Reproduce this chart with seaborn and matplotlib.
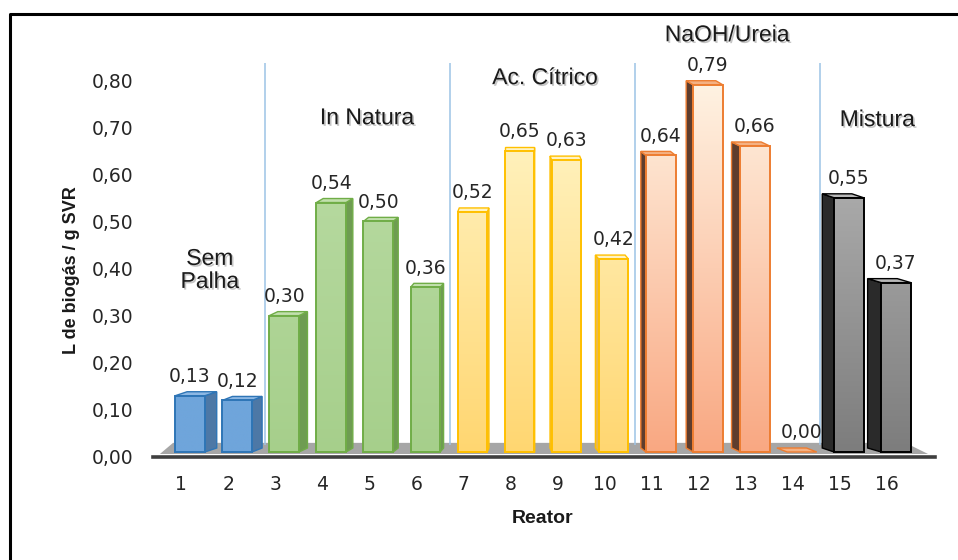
import numpy as np
import pandas as pd
import matplotlib
matplotlib.use("Agg")
import matplotlib.pyplot as plt
import matplotlib.colors as mcolors
import matplotlib.patheffects as pe
from matplotlib.patches import Polygon
from matplotlib.lines import Line2D
from matplotlib.transforms import ScaledTranslation
import seaborn as sns

# ---------------- data ----------------
reatores = [str(i) for i in range(1, 17)]
valores = [0.13, 0.12, 0.30, 0.54, 0.50, 0.36, 0.52, 0.65, 0.63, 0.42,
           0.64, 0.79, 0.66, 0.00, 0.55, 0.37]
grupos = (["Sem Palha"] * 2 + ["In Natura"] * 4 + ["Ac. Cítrico"] * 4 +
          ["NaOH/Ureia"] * 4 + ["Mistura"] * 2)
grupo_ordem = ["Sem Palha", "In Natura", "Ac. Cítrico", "NaOH/Ureia", "Mistura"]
grupo_rotulos = ["Sem\nPalha", "In Natura", "Ac. Cítrico", "NaOH/Ureia", "Mistura"]
y_ticks = [0.0, 0.1, 0.2, 0.3, 0.4, 0.5, 0.6, 0.7, 0.8]

# ---------------- style ----------------
face = {"Sem Palha": "#6FA5DB", "In Natura": "#A9D18E", "Ac. Cítrico": "#FFDD88",
        "NaOH/Ureia": "#F8B996", "Mistura": "#9A9A9A"}
edge = {"Sem Palha": "#2E75B6", "In Natura": "#70AD47", "Ac. Cítrico": "#FFC000",
        "NaOH/Ureia": "#ED7D31", "Mistura": "#000000"}
side = {"Sem Palha": "#4D78A6", "In Natura": "#6E9C52", "Ac. Cítrico": "#E9B94C",
        "NaOH/Ureia": "#5E3D2E", "Mistura": "#2A2A2A"}
topc = {"Sem Palha": "#8DB8E4", "In Natura": "#C2E0AE", "Ac. Cítrico": "#FFF3C4",
        "NaOH/Ureia": "#F4B183", "Mistura": "#B8B8B8"}
grad = {"Sem Palha": ("#6FA5DB", "#6FA5DB"),
        "In Natura": ("#A6CF8B", "#BCDDA7"),
        "Ac. Cítrico": ("#FFD670", "#FFF7CC"),
        "NaOH/Ureia": ("#F9A781", "#FFF3E3"),
        "Mistura": ("#7C7C7C", "#BDBDBD")}

sns.set_style("white")
plt.rcParams["font.family"] = ["DejaVu Sans"]

W, H, DPI = 958, 560, 100
fig = plt.figure(figsize=(W / DPI, H / DPI), dpi=DPI)

# pixel geometry
px_per_x = 47.07
px_per_y = 471.25
x0_px, x1_px = 153, 935
xlim = ((x0_px - 190) / px_per_x, (x1_px - 190) / px_per_x)
ylim = (0.0, 0.9)
y0_px = 457
ax_left = x0_px / W
ax_w = (x1_px - x0_px) / W
ax_bottom = (H - y0_px) / H
ax_h = ylim[1] * px_per_y / H
ax = fig.add_axes([ax_left, ax_bottom, ax_w, ax_h])

df = pd.DataFrame({"Reator": reatores, "Valor": valores, "Grupo": grupos})
sns.barplot(data=df, x="Reator", y="Valor", hue="Grupo", order=reatores,
            hue_order=grupo_ordem, palette=face, dodge=False, width=0.63,
            legend=False, ax=ax, errorbar=None)

dy = 4 / px_per_y
b0 = 5 / px_per_y  # bars stand on the floor, slightly above the axis line
for p in list(ax.patches):
    xl = p.get_x()
    w = p.get_width()
    h = p.get_height()
    idx = int(round(xl + w / 2))
    g = grupos[idx]
    xr = xl + w
    dx_px = 1.7 * (7 - idx)
    dx = dx_px / px_per_x
    top = max(h, b0)
    p.set_y(b0)
    p.set_height(top - b0)
    p.set_facecolor("none")
    p.set_edgecolor(edge[g] if h > 0 else "none")
    p.set_linewidth(1.4)
    p.set_zorder(3)
    # side face
    if h > 0:
        if dx >= 0:
            pts = [(xr, b0), (xr, top), (xr + dx, top + dy), (xr + dx, b0 + dy)]
        else:
            pts = [(xl, b0), (xl, top), (xl + dx, top + dy), (xl + dx, b0 + dy)]
        ax.add_patch(Polygon(pts, closed=True, facecolor=side[g],
                             edgecolor=edge[g], lw=1.0, zorder=2.8))
    # top face
    ax.add_patch(Polygon([(xl, top), (xr, top), (xr + dx, top + dy), (xl + dx, top + dy)],
                         closed=True, facecolor=topc[g], edgecolor=edge[g],
                         lw=1.0, zorder=2.85))
    # gradient front face
    if h > 0:
        b = np.array(mcolors.to_rgb(grad[g][0]))
        t = np.array(mcolors.to_rgb(grad[g][1]))
        ys = np.linspace(b0, top, 80)
        frac = np.clip(ys / 0.8, 0, 1)[:, None]
        cols = b + (t - b) * frac
        im = ax.imshow(cols[:, None, :], extent=[xl, xr, b0, top], origin="lower",
                       aspect="auto", zorder=2.9, interpolation="bilinear")
        im.set_clip_path(p)
    # data label
    ax.annotate(f"{valores[idx]:.2f}".replace(".", ","), (xl + w / 2, top),
                xytext=(0, 7), textcoords="offset points", ha="center",
                va="bottom", fontsize=13.5, color="#262626", zorder=5)

# floor
ax.add_patch(Polygon([(-0.64, 0.0064), (-0.36, 0.03), (15.2, 0.03), (15.68, 0.0064)],
                     closed=True, facecolor="#A6A6A6", edgecolor="none", zorder=0.5))

# group separators
bounds = []
pos = 0
for g in grupo_ordem[:-1]:
    pos += grupos.count(g)
    bounds.append(pos - 0.5)
for bnd in bounds:
    xb = bnd + (7 - bnd) * 0.018
    ax.vlines(xb, 0.025, 0.836, color="#9DC3E6", lw=1.1, zorder=0.6)

# group labels
label_pos = {"Sem Palha": (0.42, 0.397), "In Natura": (3.76, 0.72),
             "Ac. Cítrico": (7.54, 0.805), "NaOH/Ureia": (11.41, 0.896),
             "Mistura": (14.6, 0.716)}
for g, lab in zip(grupo_ordem, grupo_rotulos):
    x, y = label_pos[g]
    ax.text(x, y, lab, ha="center", va="center", fontsize=16.5,
            family=["Liberation Sans", "DejaVu Sans"], color="#1A1A1A",
            linespacing=1.0, zorder=6, clip_on=False,
            path_effects=[pe.withSimplePatchShadow(offset=(1.2, -1.2),
                                                   shadow_rgbFace="#7F7F7F",
                                                   alpha=0.45)])

ax.set_xlim(*xlim)
ax.set_ylim(*ylim)
ax.set_yticks(y_ticks)
ax.set_yticklabels([f"{v:.2f}".replace(".", ",") for v in y_ticks])
ax.tick_params(axis="y", length=0, pad=14, labelsize=13.5, labelcolor="#262626")
ax.tick_params(axis="x", length=0, pad=13, labelsize=13.5, labelcolor="#262626")
shift = ScaledTranslation(-9 / DPI, 0, fig.dpi_scale_trans)
for lbl in ax.get_xticklabels():
    lbl.set_transform(lbl.get_transform() + shift)

for s in ["top", "right", "left"]:
    ax.spines[s].set_visible(False)
ax.spines["bottom"].set_color("#3F3F3F")
ax.spines["bottom"].set_linewidth(2.6)
ax.spines["bottom"].set_zorder(4)
ax.grid(False)

ax.set_ylabel("L de biogás / g SVR", fontsize=13, fontweight="bold",
              family=["Liberation Sans", "DejaVu Sans"], color="#1A1A1A")
ax.yaxis.set_label_coords(-0.093, 0.441)
ax.set_xlabel("Reator", fontsize=14, fontweight="bold",
              family=["Liberation Sans", "DejaVu Sans"], color="#1A1A1A")
ax.xaxis.set_label_coords(0.4987, -0.125)

# outer frame (partially visible)
fx = 9.5 / W
fy = 1 - 13.5 / H
fig.add_artist(Line2D([fx, fx, 1.0], [0.0, fy, fy], transform=fig.transFigure,
                      color="black", lw=2.2))

fig.savefig("out.png", dpi=DPI)
